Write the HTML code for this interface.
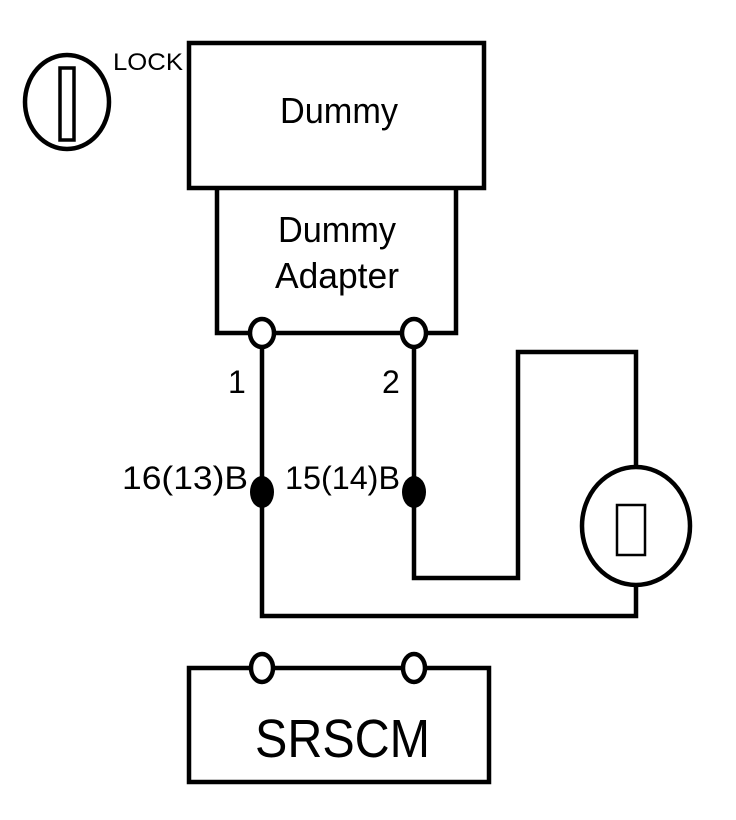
<!DOCTYPE html>
<html><head><style>body{margin:0;background:#fff}svg{display:block}</style></head><body>
<svg width="736" height="820" viewBox="0 0 736 820" xmlns="http://www.w3.org/2000/svg" font-family="Liberation Sans, sans-serif">
<g fill="none" stroke="#000" stroke-width="4.5">
<ellipse cx="67" cy="102" rx="42" ry="47"/>
<rect x="60" y="68" width="14" height="72" stroke-width="3.5"/>
<rect x="189" y="43" width="295" height="145"/>
<polyline points="217,188 217,333 456,333 456,188"/>
<line x1="262" y1="346" x2="262" y2="480"/>
<line x1="414" y1="346" x2="414" y2="480"/>
<polyline points="262,505 262,616 636,616 636,585"/>
<polyline points="414,505 414,578 518,578 518,352 636,352 636,467"/>
<ellipse cx="636" cy="526" rx="54" ry="59"/>
<rect x="617" y="505" width="28" height="50" stroke-width="2.5"/>
<rect x="189" y="668" width="300" height="114"/>
</g>
<g fill="#fff" stroke="#000" stroke-width="4.5">
<ellipse cx="262" cy="333" rx="12" ry="14"/>
<ellipse cx="414" cy="333" rx="12" ry="14"/>
<ellipse cx="262" cy="668" rx="11" ry="14"/>
<ellipse cx="414" cy="668" rx="11" ry="14"/>
</g>
<g fill="#000">
<ellipse cx="262" cy="492" rx="12" ry="16"/>
<ellipse cx="414" cy="492" rx="12" ry="16"/>
</g>
<g fill="#000">
<text x="280" y="123" font-size="36" textLength="118" lengthAdjust="spacingAndGlyphs">Dummy</text>
<text x="278" y="242" font-size="36" textLength="118" lengthAdjust="spacingAndGlyphs">Dummy</text>
<text x="275" y="288" font-size="36" textLength="124" lengthAdjust="spacingAndGlyphs">Adapter</text>
<text x="255" y="757" font-size="54" textLength="175" lengthAdjust="spacingAndGlyphs">SRSCM</text>
<text x="113" y="70" font-size="24" textLength="70" lengthAdjust="spacingAndGlyphs">LOCK</text>
<text x="228" y="393" font-size="32">1</text>
<text x="382" y="393" font-size="32">2</text>
<text x="122" y="489" font-size="32" textLength="126" lengthAdjust="spacingAndGlyphs">16(13)B</text>
<text x="285" y="489" font-size="32" textLength="115" lengthAdjust="spacingAndGlyphs">15(14)B</text>
</g>
</svg>
</body></html>
